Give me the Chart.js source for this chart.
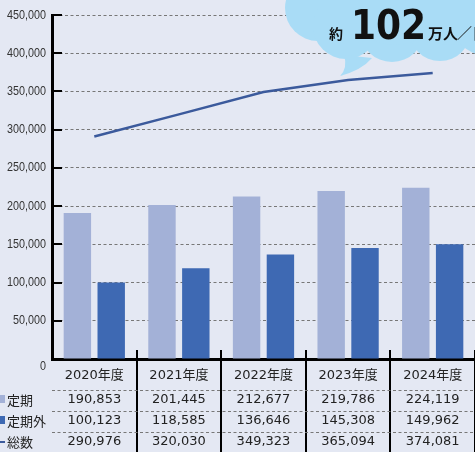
<!DOCTYPE html>
<html lang="ja">
<head>
<meta charset="UTF-8">
<script src="https://cdn.jsdelivr.net/npm/chart.js"></script>
<title>乗車人員の推移</title>
<style>
  body { margin: 0; background: #e4e8f3; }
  .graf { width: 475px; height: 452px; }
</style>
</head>
<body>
<div class="graf">
  <canvas id="myChart" width="475" height="452"></canvas>
</div>

<script>
// データ（年度別・1日あたり人員）
const nendo = ['2020年度', '2021年度', '2022年度', '2023年度', '2024年度'];
const teiki = [190853, 201445, 212677, 219786, 224119];
const teikigai = [100123, 118585, 136646, 145308, 149962];
const sousu = [290976, 320030, 349323, 365094, 374081];
const yMemori = [0, 50000, 100000, 150000, 200000, 250000, 300000, 350000, 400000, 450000];
const gyouMei = ['定期', '定期外', '総数'];

const iroUsui = '#a3b1d7';
const iroKoi = '#3e69b3';
const iroSen = '#3b5a9c';

function kanma(n) {
    return n.toLocaleString('en-US');
}

// 細めの文字（横を少し詰める）
function hosoMoji(ctx, t, rx, cy) {
    ctx.save();
    ctx.translate(rx, cy);
    ctx.scale(0.83, 1);
    ctx.fillText(t, 0, 0);
    ctx.restore();
}

// 表・目盛・吹き出しを描くプラグイン
const hyouPlugin = {
    id: 'hyou',
    afterDraw(chart) {
        const ctx = chart.ctx;
        const x = chart.scales.x;
        const y = chart.scales.y;
        const area = chart.chartArea;
        ctx.save();

        // 目盛（内向き）とラベル
        ctx.font = '13px "Liberation Sans", sans-serif';
        ctx.textAlign = 'right';
        ctx.textBaseline = 'middle';
        yMemori.forEach(v => {
            const py = y.getPixelForValue(v);
            if (v === 0) {
                ctx.fillStyle = '#333';
                hosoMoji(ctx, '0', 46, 366);
                return;
            }
            ctx.fillStyle = '#000';
            ctx.fillRect(area.left, Math.round(py) - 1, 10, 2);
            ctx.fillStyle = '#333';
            hosoMoji(ctx, kanma(v), 46, py);
        });

        // 区切り線
        const haba = x.getPixelForValue(1) - x.getPixelForValue(0);
        ctx.fillStyle = '#000';
        for (let i = 0; i < nendo.length; i++) {
            const bx = x.getPixelForValue(i) + haba / 2;
            ctx.fillRect(Math.round(bx) - 1, 350, 2, 102);
        }

        // 表の点線
        ctx.strokeStyle = '#777';
        ctx.lineWidth = 1;
        ctx.setLineDash([3, 2.5]);
        [390.5, 411.5, 432.5].forEach(ly => {
            ctx.beginPath();
            ctx.moveTo(area.left, ly);
            ctx.lineTo(area.right, ly);
            ctx.stroke();
        });
        ctx.setLineDash([]);

        // 表の文字
        const gyouY = [400, 421, 442];
        ctx.fillStyle = '#222';
        ctx.textAlign = 'center';
        ctx.font = '13px "DejaVu Sans", "Noto Sans CJK JP"';
        for (let i = 0; i < nendo.length; i++) {
            const cx = x.getPixelForValue(i);
            ctx.fillText(nendo[i], cx, 376);
            ctx.fillText(kanma(teiki[i]), cx, gyouY[0]);
            ctx.fillText(kanma(teikigai[i]), cx, gyouY[1]);
            ctx.fillText(kanma(sousu[i]), cx, gyouY[2]);
        }

        // 行ラベル
        ctx.fillStyle = iroUsui;
        ctx.fillRect(0, 395, 5, 8);
        ctx.fillStyle = iroKoi;
        ctx.fillRect(0, 416, 5, 8);
        ctx.fillStyle = iroSen;
        ctx.fillRect(0, 441, 5, 2);
        ctx.fillStyle = '#222';
        ctx.textAlign = 'left';
        ctx.font = '13px "Noto Sans CJK JP"';
        gyouMei.forEach((m, i) => ctx.fillText(m, 7, gyouY[i]));

        // 吹き出し（雲）
        ctx.fillStyle = '#a9dcf6';
        const kumo = [
            [318, 8, 33], [346, 26, 33], [392, 30, 32], [440, 30, 31],
            [485, 22, 33], [395, 0, 45], [450, 0, 45]
        ];
        kumo.forEach(c => {
            ctx.beginPath();
            ctx.arc(c[0], c[1], c[2], 0, Math.PI * 2);
            ctx.fill();
        });
        ctx.beginPath();
        ctx.moveTo(344, 55);
        ctx.quadraticCurveTo(348, 68, 340, 76);
        ctx.quadraticCurveTo(362, 70, 372, 58);
        ctx.closePath();
        ctx.fill();

        ctx.fillStyle = '#111';
        ctx.textBaseline = 'alphabetic';
        ctx.textAlign = 'left';
        ctx.font = 'bold 14px "Noto Sans CJK JP"';
        ctx.fillText('約', 329, 39);
        ctx.save();
        ctx.translate(351, 39);
        ctx.scale(0.9, 1);
        ctx.font = 'bold 40px "DejaVu Sans"';
        ctx.fillText('102', 0, 0);
        ctx.restore();
        ctx.font = 'bold 15px "Noto Sans CJK JP"';
        ctx.fillText('万人', 428, 39);
        ctx.font = '15px "Noto Sans CJK JP"';
        ctx.fillText('／日', 457, 39);

        ctx.restore();
    }
};

const dados = {
    labels: nendo,
    datasets: [
        {
            type: 'line',
            label: '総数',
            data: sousu,
            borderColor: iroSen,
            borderWidth: 2.5,
            pointRadius: 0,
            tension: 0,
            order: 0
        },
        {
            label: '定期',
            data: teiki,
            backgroundColor: iroUsui,
            categoryPercentage: 0.8,
            barPercentage: 0.81,
            order: 1
        },
        {
            label: '定期外',
            data: teikigai,
            backgroundColor: iroKoi,
            categoryPercentage: 0.8,
            barPercentage: 0.81,
            order: 1
        }
    ]
};

const config = {
    type: 'bar',
    data: dados,
    options: {
        responsive: false,
        animation: false,
        layout: { padding: { top: 15, left: 0, right: 0, bottom: 0 } },
        plugins: {
            legend: { display: false },
            tooltip: { enabled: false }
        },
        scales: {
            x: {
                grid: { display: false },
                border: { display: true, color: '#000', width: 3 },
                ticks: { display: false },
                afterFit(s) { s.height = 93; }
            },
            y: {
                min: 0,
                max: 450000,
                ticks: { stepSize: 50000, display: false },
                grid: { color: '#777', lineWidth: 1, drawTicks: false },
                border: { display: true, color: '#000', width: 3, dash: [3, 2.5] },
                afterFit(s) { s.width = 52; }
            }
        }
    },
    plugins: [hyouPlugin]
};

let myChart = new Chart(document.getElementById('myChart'), config);
</script>
</body>
</html>
